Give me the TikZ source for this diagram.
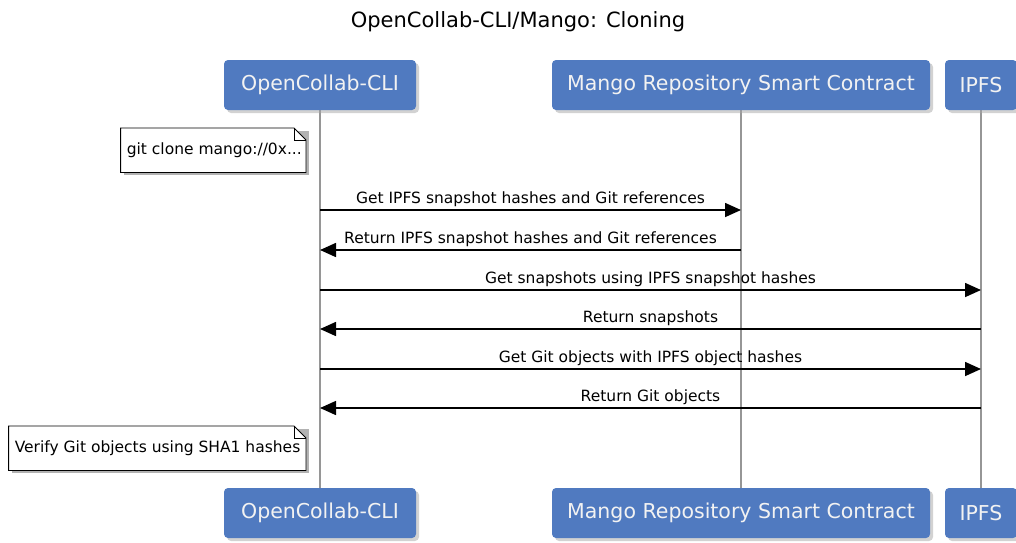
\documentclass[tikz,border=0pt]{standalone}
\usepackage{fontspec}
\setmainfont{DejaVu Sans}
\usetikzlibrary{arrows.meta,shadows,calc}
\definecolor{partblue}{RGB}{80,122,192}
\definecolor{lifegray}{RGB}{150,150,150}
\tikzset{
  part/.style={rectangle, rounded corners=4pt, fill=partblue, text=white!95!black,
    font=\fontsize{20.5}{22}\selectfont, minimum height=50pt, inner xsep=6pt,
    drop shadow={shadow xshift=3pt, shadow yshift=-3pt, fill=black!35}},
  life/.style={draw=lifegray, line width=1.6pt},
  msg/.style={draw=black, line width=1.6pt, -{Triangle[length=16pt,width=14pt]}},
  lbl/.style={above, font=\fontsize{15.5}{17}\selectfont, inner sep=2pt},
  note/.style={minimum height=44pt, anchor=north east},
  notetext/.style={font=\fontsize{15.5}{17}\selectfont, anchor=west, inner sep=0pt}
}
\newcommand{\foldnote}[1]{%
  \fill[black!30] ($(#1.south west)+(3pt,-3pt)$) rectangle ($(#1.north east)+(3pt,-3pt)$);
  \filldraw[fill=white, draw=black, line width=0.8pt]
    (#1.south west) -- (#1.north west) -- ($(#1.north east)+(-12pt,0)$)
    -- ($(#1.north east)+(0,-12pt)$) -- (#1.south east) -- cycle;
  \draw[line width=0.8pt] ($(#1.north east)+(-12pt,0)$) -- ($(#1.north east)+(-12pt,-12pt)$)
    -- ($(#1.north east)+(0,-12pt)$);
}
\begin{document}
\begin{tikzpicture}[x=1pt,y=-1pt]
\useasboundingbox (0,0) rectangle (1016,542);
\node[font=\fontsize{21}{24}\selectfont] (title) at (518,22) {OpenCollab-CLI/Mango: Cloning};

% lifelines
\coordinate (cliL) at (320,110);
\coordinate (mangoL) at (741,110);
\coordinate (ipfsL) at (981,110);
\draw[life] (cliL) -- (320,488);
\draw[life] (mangoL) -- (741,488);
\draw[life] (ipfsL) -- (981,488);

% participants
\node[part, minimum width=192pt] (cliTop) at (320,85) {OpenCollab-CLI};
\node[part, minimum width=378pt] (mangoTop) at (741,85) {Mango Repository Smart Contract};
\node[part, minimum width=72pt] (ipfsTop) at (981,85) {IPFS};
\node[part, minimum width=192pt] (cliBot) at (320,513) {OpenCollab-CLI};
\node[part, minimum width=378pt] (mangoBot) at (741,513) {Mango Repository Smart Contract};
\node[part, minimum width=72pt] (ipfsBot) at (981,513) {IPFS};

% notes
\node[note, minimum width=185pt] (cloneNote) at (306,128) {};
\foldnote{cloneNote}
\node[notetext] at ($(cloneNote.west)+(6pt,0)$) {git clone mango://0x...};
\node[note, minimum width=297pt] (verifyNote) at (306,426) {};
\foldnote{verifyNote}
\node[notetext] at ($(verifyNote.west)+(6pt,0)$) {Verify Git objects using SHA1 hashes};

% messages
\coordinate (m1) at (0,210);
\coordinate (m2) at (0,250);
\coordinate (m3) at (0,290);
\coordinate (m4) at (0,329);
\coordinate (m5) at (0,369);
\coordinate (m6) at (0,408);
\draw[msg] (cliTop |- m1) -- (mangoTop |- m1) node[lbl, midway] {Get IPFS snapshot hashes and Git references};
\draw[msg] (mangoTop |- m2) -- (cliTop |- m2) node[lbl, midway] {Return IPFS snapshot hashes and Git references};
\draw[msg] (cliTop |- m3) -- (ipfsTop |- m3) node[lbl, midway] {Get snapshots using IPFS snapshot hashes};
\draw[msg] (ipfsTop |- m4) -- (cliTop |- m4) node[lbl, midway] {Return snapshots};
\draw[msg] (cliTop |- m5) -- (ipfsTop |- m5) node[lbl, midway] {Get Git objects with IPFS object hashes};
\draw[msg] (ipfsTop |- m6) -- (cliTop |- m6) node[lbl, midway] {Return Git objects};
\end{tikzpicture}
\end{document}
